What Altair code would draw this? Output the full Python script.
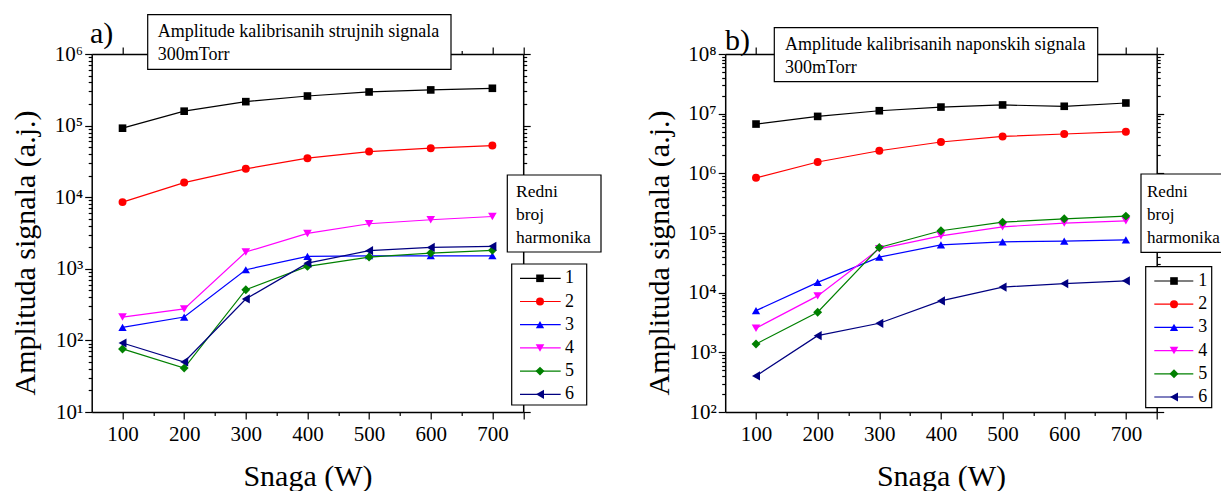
import altair as alt
import pandas as pd

# ---------------- data ----------------
snaga = [100, 200, 300, 400, 500, 600, 700]
series_names = ["1", "2", "3", "4", "5", "6"]
colors = ["#000000", "#FF0000", "#0000FF", "#FF00FF", "#008000", "#000080"]
shapes = ["square", "circle", "triangle-up", "triangle-down", "diamond", "triangle-left"]
sizes = [58, 85, 115, 115, 85, 115]

# panel a) current signals
a_1 = [92000, 159000, 216000, 259000, 295000, 315000, 332000]
a_2 = [8540, 16000, 24900, 35100, 43400, 48400, 52600]
a_3 = [152, 212, 970, 1490, 1520, 1520, 1520]
a_4 = [212, 275, 1715, 3120, 4260, 4840, 5380]
a_5 = [76, 41, 511, 1080, 1460, 1660, 1810]
a_6 = [92, 50, 379, 1200, 1790, 1990, 2060]

# panel b) voltage signals
b_1 = [6.7e6, 9.0e6, 1.12e7, 1.29e7, 1.40e7, 1.33e7, 1.51e7]
b_2 = [8.4e5, 1.55e6, 2.39e6, 3.35e6, 4.16e6, 4.56e6, 4.99e6]
b_3 = [5000, 14900, 39400, 63400, 71100, 73100, 76900]
b_4 = [2540, 8830, 54300, 89700, 127000, 146600, 160000]
b_5 = [1380, 4710, 57100, 109000, 152000, 173000, 192000]
b_6 = [402, 1905, 3070, 7280, 12400, 14200, 15800]

title_a = ["Amplitude kalibrisanih strujnih signala", "300mTorr"]
title_b = ["Amplitude kalibrisanih naponskih signala", "300mTorr"]
legend_title = ["Redni", "broj", "harmonika"]
x_title = "Snaga (W)"
y_title = "Amplituda signala (a.j.)"
x_tick_values = [100, 150, 200, 250, 300, 350, 400, 450, 500, 550, 600, 650, 700, 750]

FONT = "Liberation Serif"
W, H = 1065, 358
XL_RANGE = [0, 431.5]
XR_RANGE = [633.5, 1065]


def long_df(arrs):
    rows = []
    for name, vals in zip(series_names, arrs):
        for s, v in zip(snaga, vals):
            rows.append({"snaga": s, "value": v, "series": name})
    return pd.DataFrame(rows)


df_a = long_df([a_1, a_2, a_3, a_4, a_5, a_6])
df_b = long_df([b_1, b_2, b_3, b_4, b_5, b_6])


def log_values(lo, hi):
    vals = []
    for e in range(lo, hi):
        for k in range(1, 10):
            vals.append(k * 10 ** e)
    vals.append(10 ** hi)
    return vals


SUP = ["⁰", "¹", "²", "³", "⁴", "⁵", "⁶", "⁷", "⁸", "⁹"]
sup_js = "[" + ",".join("'" + s + "'" for s in SUP) + "]"
lg = "(log(datum.value)/LN10)"
is_major_y = f"abs({lg} - round({lg})) < 1e-6"
ylabel_expr = f"{is_major_y} ? '10' + {sup_js}[round({lg})] : ''"
is_major_x = "datum.value % 100 == 0 || datum.value == 750"
xlabel_expr = "(datum.value % 100 == 0 && datum.value <= 700) ? datum.label : ''"

common_axis = dict(domainColor="black", domainWidth=1.5, tickColor="black",
                   tickWidth=1.2, grid=False, labelOverlap=False)


def y_axis(orient, values, offset, main):
    kw = dict(common_axis)
    kw.update(orient=orient, values=values, offset=offset,
              tickSize={"condition": {"test": is_major_y, "value": 7}, "value": 3.5})
    if main:
        kw.update(labelExpr=ylabel_expr, labelFont=FONT, labelFontSize=21,
                  labelColor="black", labelPadding=2, title=y_title,
                  titleFont=FONT, titleFontSize=30, titleFontWeight="normal",
                  titleColor="black", titleX=-56.7, titleY=198.5,
                  titleBaseline="alphabetic", titleAlign="center")
    else:
        kw.update(labels=False, title="")
    return alt.Axis(**kw)


def x_axis(orient, main):
    kw = dict(common_axis)
    kw.update(orient=orient, values=x_tick_values,
              tickSize={"condition": {"test": is_major_x, "value": 7}, "value": 3.5})
    if main:
        kw.update(labelExpr=xlabel_expr, labelFont=FONT, labelFontSize=21,
                  labelColor="black", labelPadding=4, labelFlush=False, title=x_title,
                  titleFont=FONT, titleFontSize=30, titleFontWeight="normal",
                  titleColor="black", titleY=73, titleBaseline="alphabetic")
    else:
        kw.update(labels=False, title="")
    return alt.Axis(**kw)


color_enc = alt.Color("series:N", scale=alt.Scale(domain=series_names, range=colors), legend=None)
shape_enc = alt.Shape("series:N", scale=alt.Scale(domain=series_names, range=shapes), legend=None)
size_enc = alt.Size("series:O", scale=alt.Scale(domain=series_names, range=sizes), legend=None)


def panel(df, xrange, ydomain, ylo, yhi, yl_off, yr_off):
    yvals = log_values(ylo, yhi)
    xs = alt.Scale(domain=[50, 750], range=xrange, nice=False, zero=False)
    ys = alt.Scale(type="log", domain=ydomain, nice=False)
    line = alt.Chart(df).mark_line(strokeWidth=1.2).encode(
        x=alt.X("snaga:Q", scale=xs, axis=x_axis("bottom", True)),
        y=alt.Y("value:Q", scale=ys, axis=y_axis("left", yvals, yl_off, True)),
        color=color_enc,
        detail="series:N",
    )
    pts = alt.Chart(df).mark_point(filled=True, opacity=1).encode(
        x=alt.X("snaga:Q", scale=xs, axis=x_axis("top", False)),
        y=alt.Y("value:Q", scale=ys, axis=y_axis("right", yvals, yr_off, False)),
        color=color_enc,
        shape=shape_enc,
        size=size_enc,
    )
    return [line, pts]


one = pd.DataFrame({"k": [0]})
leg_df = pd.DataFrame({"series": series_names, "idx": list(range(6))})


def box(x1, x2, y1, y2):
    return alt.Chart(one).mark_rect(fill="white", stroke="black", strokeWidth=1.2).encode(
        x=alt.value(x1), x2=alt.value(x2), y=alt.value(y1), y2=alt.value(y2))


def text_block(lines, x, y, size, lh):
    return alt.Chart(one).mark_text(align="left", baseline="alphabetic", font=FONT,
                                    fontSize=size, lineHeight=lh, color="black").encode(
        x=alt.value(x), y=alt.value(y), text=alt.value(lines))


def legend(bx1, bx2, by1, by2, tx, ty, tsize, lx1, lx2, y0, y1, line_x1, line_x2, mk_x, lab_x):
    ly = alt.Y("idx:Q", scale=alt.Scale(domain=[0, 5], range=[y0, y1], nice=False, zero=False), axis=None)
    return [
        box(bx1, bx2, by1, by2),
        text_block(legend_title, tx, ty, tsize, 23),
        box(lx1, lx2, y0 - 14.3, y1 + 10.7),
        alt.Chart(leg_df).mark_rule(strokeWidth=1.2).encode(
            x=alt.value(line_x1), x2=alt.value(line_x2), y=ly, color=color_enc),
        alt.Chart(leg_df).mark_point(filled=True, opacity=1).encode(
            x=alt.value(mk_x), y=ly, color=color_enc, shape=shape_enc, size=size_enc),
        alt.Chart(leg_df).mark_text(align="left", baseline="middle", font=FONT, fontSize=18,
                                    color="black").encode(
            x=alt.value(lab_x), y=ly, text="series:N"),
    ]


layers = []
layers += panel(df_a, XL_RANGE, [10, 1e6], 1, 6, 0, -(W - XL_RANGE[1]))
layers += panel(df_b, XR_RANGE, [100, 1e8], 2, 8, -XR_RANGE[0], 0)

# panel a annotations
layers.append(alt.Chart(one).mark_text(align="left", baseline="alphabetic", font=FONT,
                                       fontSize=30, color="black").encode(
    x=alt.value(-1.7), y=alt.value(-10.7), text=alt.value("a)")))
layers.append(box(56, 359.3, -39.3, 15.3))
layers.append(text_block(title_a, 66, -16.7, 18, 22.7))
layers += legend(415.6, 509.3, 121, 198, 424.3, 142.7, 17.5, 420, 495, 224.3, 340.3,
                 428.3, 469, 448.3, 473.3)

# panel b annotations
layers.append(alt.Chart(one).mark_text(align="left", baseline="alphabetic", font=FONT,
                                       fontSize=30, color="black").encode(
    x=alt.value(633.3), y=alt.value(-4), text=alt.value("b)")))
layers.append(box(682.6, 1006, -26.3, 27.7))
layers.append(text_block(title_b, 693.3, -4, 18, 22.7))
layers += legend(1049.3, 1140, 120, 198.3, 1055.3, 142.7, 17, 1054, 1120, 227, 343,
                 1062.6, 1101.6, 1082.3, 1106.6)

chart = alt.layer(*layers).resolve_scale(
    x="independent", y="independent"
).properties(
    width=W, height=H,
    autosize=alt.AutoSizeParams(type="none"),
    padding={"left": 83.7, "top": 46, "right": 64.3, "bottom": 80},
    background="white",
).configure_view(strokeWidth=0)

chart.save("out.html", embed_options={"renderer": "svg", "actions": False})
